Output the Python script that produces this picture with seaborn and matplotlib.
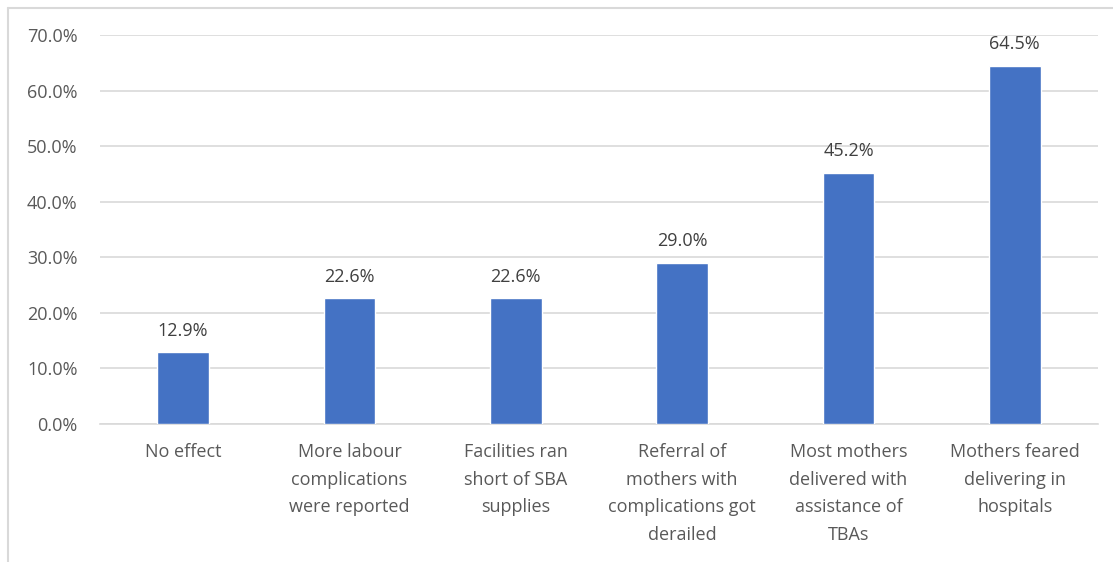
import matplotlib
matplotlib.use("Agg")
import matplotlib.pyplot as plt
import seaborn as sns
import pandas as pd
from matplotlib.lines import Line2D

categories = [
    "No effect",
    "More labour\ncomplications\nwere reported",
    "Facilities ran\nshort of SBA\nsupplies",
    "Referral of\nmothers with\ncomplications got\nderailed",
    "Most mothers\ndelivered with\nassistance of\nTBAs",
    "Mothers feared\ndelivering in\nhospitals",
]
values = [12.9, 22.6, 22.6, 29.0, 45.2, 64.5]
yticks = [0, 10, 20, 30, 40, 50, 60, 70]

sns.set_theme(style="white")
plt.rcParams['font.family'] = ['Open Sans', 'DejaVu Sans']

df = pd.DataFrame({"cat": categories, "val": values})

fig = plt.figure(figsize=(11.13, 5.62), dpi=100)
ax = fig.add_axes([0.0898, 0.2456, 0.8967, 0.6921])

sns.barplot(data=df, x="cat", y="val", color="#4472C4", saturation=1,
            width=0.31, ax=ax, zorder=3)

ax.set_ylim(0, 70)
ax.set_xlim(-0.5, 5.5)
ax.set_yticks(yticks)
ax.set_yticklabels([f"{t:.1f}%" for t in yticks])
ax.yaxis.grid(True, color="#d9d9d9", linewidth=1.2, zorder=0)
ax.set_axisbelow(True)
for s in ["left", "right", "top"]:
    ax.spines[s].set_visible(False)
ax.spines["bottom"].set_color("#d9d9d9")
ax.spines["bottom"].set_linewidth(1.2)
ax.set_xlabel("")
ax.set_ylabel("")
ax.tick_params(axis="both", length=0, colors="#595959", labelsize=13)
ax.tick_params(axis="y", pad=16)
ax.tick_params(axis="x", pad=14)
for lab in ax.get_xticklabels():
    lab.set_linespacing(1.68)
    lab.set_color("#595959")

for i, v in enumerate(values):
    ax.annotate(f"{v:.1f}%", (i, v), xytext=(0, 9), textcoords="offset points",
                ha="center", va="bottom", fontsize=13, color="#404040")

# outer chart frame (left and top visible)
fig.add_artist(Line2D([0.0072, 0.0072], [0, 0.9858], transform=fig.transFigure,
                      color="#d9d9d9", linewidth=1.5))
fig.add_artist(Line2D([0.0072, 1.0], [0.9858, 0.9858], transform=fig.transFigure,
                      color="#d9d9d9", linewidth=1.5))

fig.savefig("out.png", dpi=100, facecolor="white")
